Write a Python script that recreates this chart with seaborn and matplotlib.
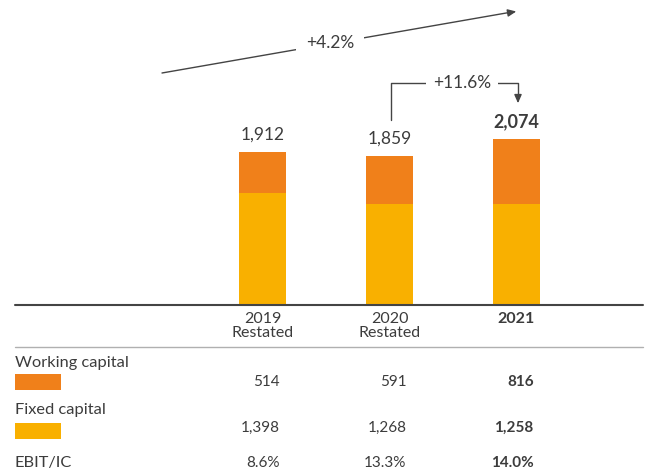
import pandas as pd
import matplotlib
matplotlib.use("Agg")
import matplotlib.pyplot as plt
import seaborn as sns
from matplotlib.lines import Line2D
from matplotlib.transforms import blended_transform_factory

# data
years = ["2019", "2020", "2021"]
year_notes = ["Restated", "Restated", ""]
working_capital = [514, 591, 816]
fixed_capital = [1398, 1268, 1258]
ebit_ic = ["8.6%", "13.3%", "14.0%"]
cagr_label = "+4.2%"
yoy_label = "+11.6%"

ORANGE = "#F0801A"
YELLOW = "#F9B000"
TEXT = "#3c3c3c"

sns.set_style("white")
plt.rcParams['font.family'] = ['Lato', 'DejaVu Sans']

W, H = 645, 475
fig = plt.figure(figsize=(6.45, 4.75), dpi=100)


def fx(px):
    return px / W


def fy(py):
    return 1 - py / H


base_y = 305
ax = fig.add_axes([0, fy(base_y), 1, base_y / H])

df = pd.DataFrame({"year": years, "wc": working_capital, "fc": fixed_capital})
df["total"] = df["wc"] + df["fc"]

sns.barplot(data=df, x="year", y="total", color=ORANGE, width=0.37,
            saturation=1, errorbar=None, linewidth=0, ax=ax)
sns.barplot(data=df, x="year", y="fc", color=YELLOW, width=0.37,
            saturation=1, errorbar=None, linewidth=0, ax=ax)

step = 127
ax.set_xlim(-262.5 / step, 2 + (W - 516.5) / step)
ax.set_ylim(0, base_y / 0.08)
ax.axis("off")

# baseline and table separator
fig.add_artist(Line2D([fx(15), fx(643)], [fy(305), fy(305)], color="#444444", lw=1.5))
fig.add_artist(Line2D([fx(15), fx(643)], [fy(347), fy(347)], color="#b0b0b0", lw=1.0))

# totals above bars
for i, t in enumerate(df["total"]):
    bold = i == len(df) - 1
    ax.annotate(f"{t:,}", (i, t), xytext=(0, 12.5), textcoords="offset points",
                ha="center", va="center", fontsize=13 if bold else 12.5,
                fontweight="bold" if bold else "normal", color=TEXT)

tr = blended_transform_factory(ax.transData, fig.transFigure)

# category labels
for i, (yr, note) in enumerate(zip(years, year_notes)):
    bold = note == ""
    fig.text(i, fy(319), yr, transform=tr, ha="center", va="center",
             fontsize=11.5, fontweight="bold" if bold else "normal", color=TEXT)
    if note:
        fig.text(i, fy(333), note, transform=tr, ha="center", va="center",
                 fontsize=11.5, color=TEXT)

# table rows
rows = [
    ("Working capital", ORANGE, [f"{v:,}" for v in working_capital], 363, 382),
    ("Fixed capital", YELLOW, [f"{v:,}" for v in fixed_capital], 410, 428),
    ("EBIT/IC", None, ebit_ic, 463, 463),
]
for label, col, vals, ly, vy in rows:
    fig.text(fx(15), fy(ly), label, ha="left", va="center", fontsize=11.8, color=TEXT)
    if col:
        fig.add_artist(plt.Rectangle((fx(15), fy(390 if col == ORANGE else 439)),
                                     46 / W, 16 / H, color=col, lw=0))
    for i, v in enumerate(vals):
        bold = i == len(vals) - 1
        fig.text(i + 0.135, fy(vy), v, transform=tr, ha="right", va="center",
                 fontsize=11, fontweight="bold" if bold else "normal", color=TEXT)

# overall trend arrow
fig.add_artist(Line2D([fx(162), fx(512)], [fy(73), fy(12)], color="#444444", lw=1.0))
ax.annotate("", xy=(fx(519), fy(11)), xytext=(fx(505), fy(13.4)),
            xycoords="figure fraction", textcoords="figure fraction",
            arrowprops=dict(arrowstyle="-|>,head_length=0.5,head_width=0.22",
                            color="#444444", lw=1.0))
fig.text(fx(330), fy(43), cagr_label, ha="center", va="center", fontsize=12.5,
         color=TEXT, bbox=dict(facecolor="white", edgecolor="none", pad=7))

# year-on-year bracket
fig.add_artist(Line2D([fx(391), fx(391), fx(518), fx(518)],
                      [fy(120), fy(83), fy(83), fy(98)], color="#444444", lw=1.0))
ax.annotate("", xy=(fx(518), fy(106)), xytext=(fx(518), fy(95)),
            xycoords="figure fraction", textcoords="figure fraction",
            arrowprops=dict(arrowstyle="-|>,head_length=0.5,head_width=0.22",
                            color="#444444", lw=1.0))
fig.text(fx(462), fy(83), yoy_label, ha="center", va="center", fontsize=12.5,
         color=TEXT, bbox=dict(facecolor="white", edgecolor="none", pad=5))

fig.savefig("out.png", dpi=100)
